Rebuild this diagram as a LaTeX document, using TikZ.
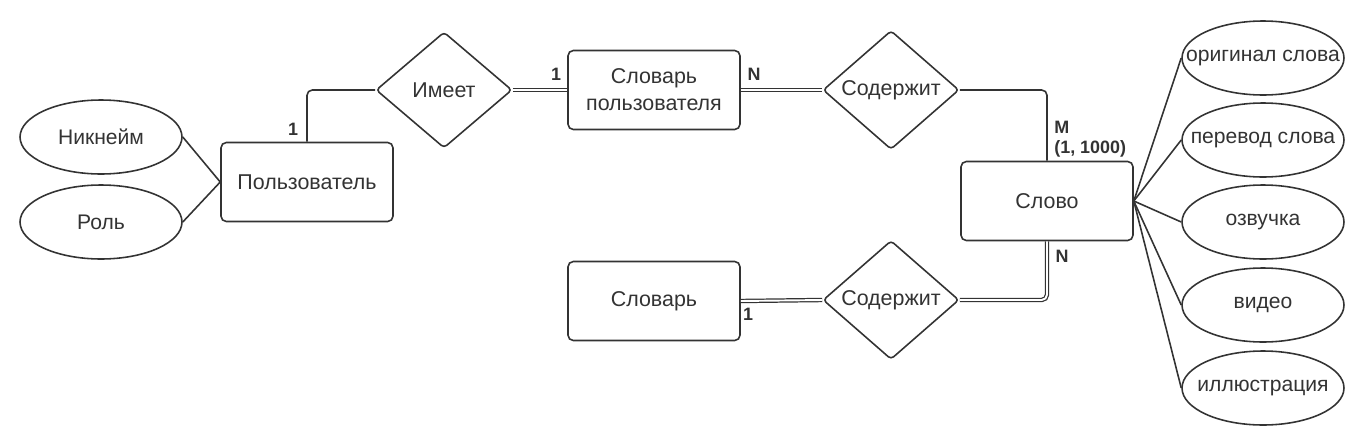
\documentclass[tikz,border=0pt]{standalone}
\usepackage{fontspec}
\setmainfont{Liberation Sans}
\usetikzlibrary{shapes.geometric}
\definecolor{ink}{HTML}{333333}
\newcommand{\attrtxt}[1]{\makebox[0pt]{#1}}
\tikzset{
  entity/.style={draw=ink,text=ink,line width=0.9pt,rounded corners=3pt,minimum width=3.44cm,minimum height=1.58cm,align=center,font=\fontsize{12.2}{15.3}\selectfont},
  attr/.style={draw=ink,text=ink,line width=0.9pt,ellipse,minimum width=3.24cm,minimum height=1.48cm,inner sep=0pt,font=\fontsize{12}{14}\selectfont},
  rel/.style={draw=ink,text=ink,line width=0.9pt,diamond,rounded corners=2pt,minimum width=2.72cm,minimum height=2.32cm,inner sep=0pt,font=\fontsize{12.2}{14}\selectfont},
  card/.style={text=ink,inner sep=0pt,align=left,font=\fontsize{10.2}{11.4}\selectfont\bfseries},
  link/.style={draw=ink,line width=0.9pt,rounded corners=3pt},
  dbl/.style={draw=ink,double=white,double distance=1.1pt,line width=0.7pt,rounded corners=3pt}
}
\begin{document}
\begin{tikzpicture}[x=0.02cm,y=-0.02cm]
\useasboundingbox (0,0) rectangle (1360,447);
% entities
\node[entity] (user) at (307,182) {Пользователь};
\node[entity] (udict) at (654,90) {Словарь\\пользователя};
\node[entity] (dict) at (654,301) {Словарь};
\node[entity] (word) at (1047,201) {Слово};
% relations
\node[rel] (has) at (444,90) {Имеет};
\node[rel] (cont1) at (891,90) {Содержит};
\node[rel] (cont2) at (891,300) {Содержит};
% attributes
\node[attr] (nick) at (101,137) {\attrtxt{Никнейм}};
\node[attr] (role) at (101,222) {\attrtxt{Роль}};
\foreach \nm/\yy/\txt in {orig/58/оригинал слова,trans/140/перевод слова,sound/222/озвучка,video/305/видео,pict/388/иллюстрация}{
  \node[attr] (\nm) at (1263,\yy) {\attrtxt{\txt}};
  \draw[link] (word.east)--(\nm.west);
}
\draw[link] (nick.east)--(user.west);
\draw[link] (role.east)--(user.west);
% connectors
\draw[link] (user.north)|-(has.west);
\draw[dbl] (has.east)--(udict.west);
\draw[dbl] (udict.east)--(cont1.west);
\draw[link] (cont1.east)-|(word.north);
\draw[dbl] (dict.east)--(cont2.west);
\draw[dbl] (cont2.east)-|(word.south);
% cardinalities
\node[card] (cuser) at (293,129) {1};
\node[card] (cudict) at (556,74) {1};
\node[card] (cudictn) at (754,74) {N};
\node[card,anchor=west] (cwordm) at (1054,139) {M\\(1, 1000)};
\node[card] (cwordn) at (1062,256) {N};
\node[card] (cdict) at (748,314) {1};
\end{tikzpicture}
\end{document}
